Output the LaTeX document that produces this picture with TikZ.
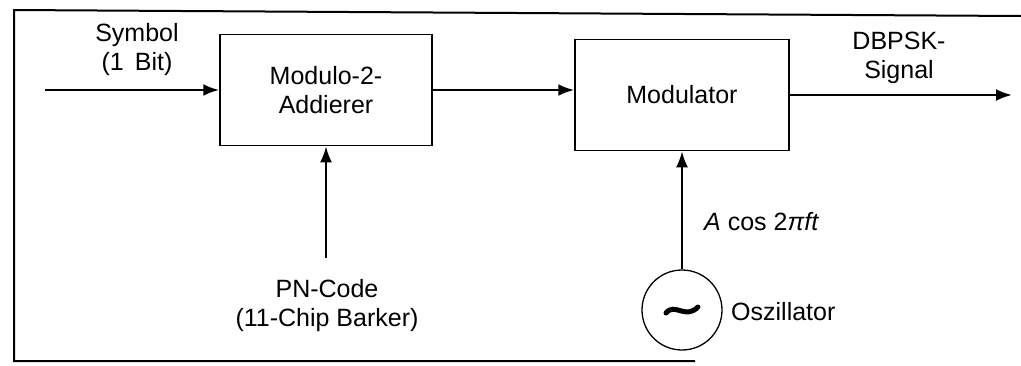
\documentclass[tikz,border=0pt]{standalone}
\usepackage{fontspec}
\setmainfont{Liberation Sans}
\usetikzlibrary{arrows.meta,calc}
\begin{document}
\begin{tikzpicture}[x=1pt,y=-1pt,
  lbl/.style={font=\fontsize{25}{29}\selectfont, align=center, inner sep=0pt},
  blk/.style={draw, line width=1.5pt, minimum width=212pt, minimum height=111pt, inner sep=0pt, font=\fontsize{25}{29}\selectfont, align=center},
  sig/.style={line width=2.4pt, -{Latex[length=16pt,width=12pt]}},
  frame/.style={line width=2pt}
]
\useasboundingbox (0,0) rectangle (1021,365);
% frame
\draw[frame] (1021,16) -- (14,10) -- (14,361) -- (695,361);
% blocks
\node[blk] (add) at (326,90) {Modulo-2-\\Addierer};
\node[blk, minimum width=214pt] (mod) at (682,95) {Modulator};
% labels
\node[lbl] (sym) at (137,50) {Symbol\\(1\, Bit)};
\node[lbl] (pn) at (327,306) {PN-Code\\(11-Chip Barker)};
\node[lbl] (dbpsk) at (899,58) {DBPSK-\\Signal};
% oscillator
\node[draw, circle, line width=1.3pt, minimum size=80pt, inner sep=0pt] (osc) at (682,310) {};
\draw[line width=5pt, line cap=round] ($(osc.center)+(-16,3)$) .. controls ($(osc.center)+(-7,-8)$) and ($(osc.center)+(3,10)$) .. ($(osc.center)+(16,-3)$);
\node[lbl, anchor=west] (osclbl) at (731,312) {Oszillator};
\node[lbl, anchor=west] (carrier) at (704,222) {\textit{A} cos 2\textit{πft}};
% coordinates
\coordinate (in) at (45,90);
\coordinate (out) at (1012,95);
\coordinate (pntop) at (326,258);
% connectors
\draw[sig] (in) -- (add.west);
\draw[sig] (add.east) -- (add.east -| mod.west);
\draw[sig] (mod.east) -- (out);
\draw[sig] (pntop) -- (add.south);
\draw[sig] (osc.north) -- (mod.south);
\end{tikzpicture}
\end{document}
